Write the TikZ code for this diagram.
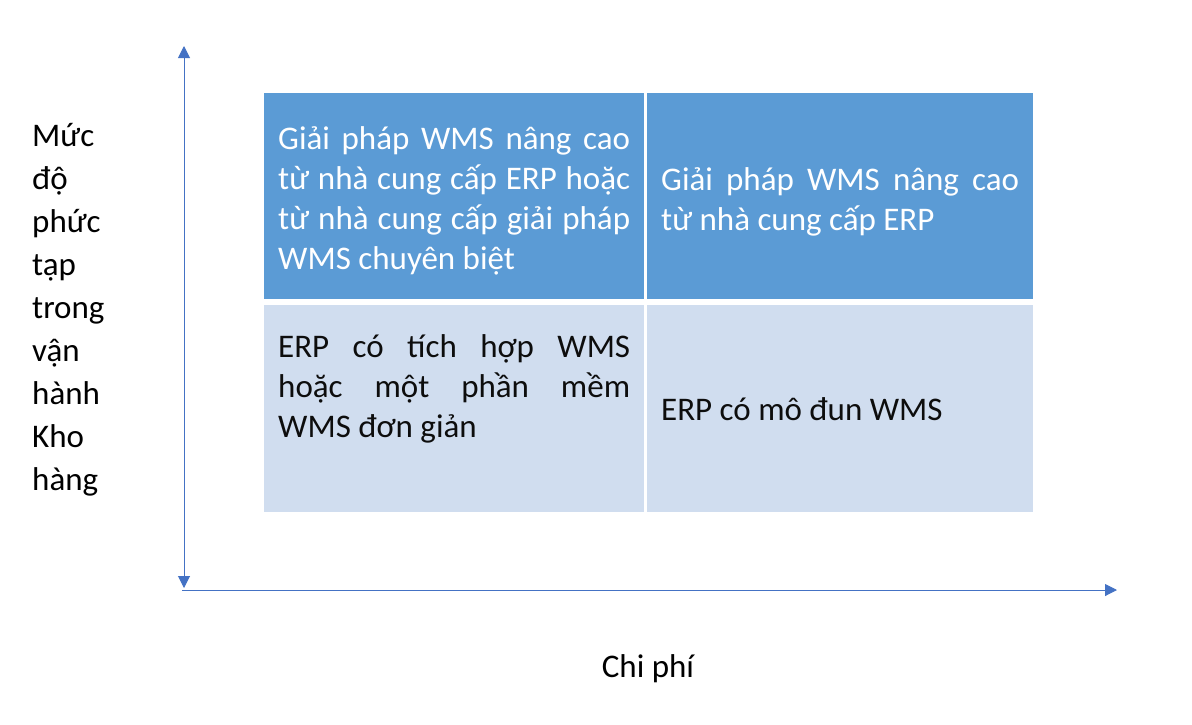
\documentclass[tikz,border=0pt]{standalone}
\usepackage{fontspec}
\setmainfont{Carlito}
\usetikzlibrary{arrows.meta}
\definecolor{axisblue}{HTML}{4472C4}
\definecolor{darkcell}{HTML}{5B9BD5}
\definecolor{lightcell}{HTML}{D0DDEF}
\tikzset{>={Triangle[width=12pt,length=12pt]}}

\begin{document}
\begin{tikzpicture}[x=1pt, y=-1pt,
    cell/.style={anchor=north west, inner sep=0pt, minimum height=206pt},
    cellwide/.style={cell, minimum width=386pt},
    cellnarrow/.style={cell, minimum width=380pt},
    celltext/.style={inner sep=0pt, align=justify,
      font=\fontsize{33}{40}\selectfont},
    axis/.style={draw=axisblue, line width=1pt}]

  \useasboundingbox (0,0) rectangle (1192,724);

  %% the four cells of the table
  \node[cellnarrow, fill=darkcell] (hardlow) at (264,93) {};
  \node[cellwide, fill=darkcell] (hardhigh) at (647,93) {};
  \node[cellnarrow, fill=lightcell, minimum height=207pt] (easylow) at (264,305) {};
  \node[cellwide, fill=lightcell, minimum height=207pt] (easyhigh) at (647,305) {};

  %% texts in the cells
  \node[celltext, text=white, text width=352pt, yshift=-5pt] (hardlowtext) at (hardlow.center)
    {Giải pháp WMS nâng cao từ nhà cung cấp ERP hoặc từ nhà cung cấp giải pháp WMS chuyên biệt};
  \node[celltext, text=white, text width=358pt, yshift=-6pt] (hardhightext) at (hardhigh.center)
    {Giải pháp WMS nâng cao từ nhà cung cấp ERP};
  \node[celltext, text=black!95, text width=352pt, yshift=20pt] (easylowtext) at (easylow.center)
    {ERP có tích hợp WMS\linebreak hoặc một phần mềm\linebreak WMS đơn giản};
  \node[celltext, text=black!95, text width=358pt] (easyhightext) at (easyhigh.center)
    {ERP có mô đun WMS};

  %% axes
  \coordinate (origin) at (184,588);
  \coordinate (ytop) at (184,46);
  \coordinate (xstart) at (182,590);
  \coordinate (xend) at (1117,590);
  \draw[axis, <->] (origin) -- (ytop);
  \draw[axis, ->] (xstart) -- (xend);

  %% axis labels
  \node[anchor=north west, inner sep=0pt, align=left,
    font=\fontsize{33}{43}\selectfont] (ylabel) at (32,123)
    {Mức\\độ\\phức\\tạp\\trong\\vận\\hành\\Kho\\hàng};
  \node[anchor=base, inner sep=0pt, font=\fontsize{33}{40}\selectfont]
    (xlabel) at (648,677) {Chi phí};

\end{tikzpicture}
\end{document}
